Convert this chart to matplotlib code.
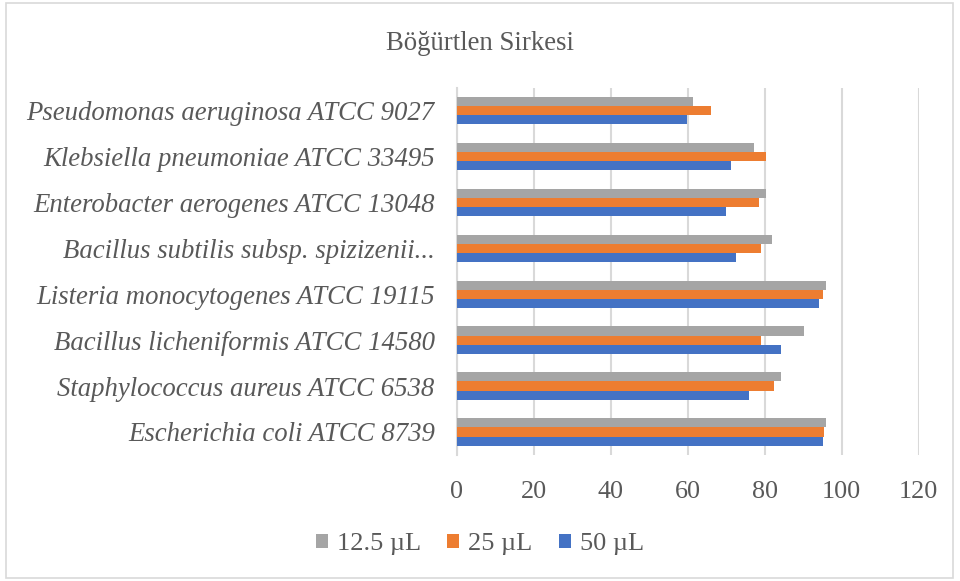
import numpy as np
import matplotlib.pyplot as plt
from matplotlib.patches import Rectangle

# categories listed from bottom to top
species = ['Escherichia coli ATCC 8739',
           'Staphylococcus aureus ATCC 6538',
           'Bacillus licheniformis ATCC 14580',
           'Listeria monocytogenes ATCC 19115',
           'Bacillus subtilis subsp. spizizenii...',
           'Enterobacter aerogenes ATCC 13048',
           'Klebsiella pneumoniae ATCC 33495',
           'Pseudomonas aeruginosa ATCC 9027']
v12_5 = [95.8, 84.1, 90.1, 95.8, 81.8, 80.4, 77.1, 61.4]
v25 = [95.5, 82.5, 79.1, 95.1, 79.1, 78.5, 80.4, 66.1]
v50 = [95.1, 75.8, 84.1, 94.1, 72.5, 69.8, 71.1, 59.8]

txt = '#595959'
plt.rcParams['font.family'] = ['Liberation Serif', 'DejaVu Serif']

fig = plt.figure(figsize=(9.6, 5.81), dpi=100)
ax = fig.add_axes([0.476, 0.217, 0.481, 0.632])

y = np.arange(len(species))
h = 0.2
ax.barh(y - h, v50, height=h, color='#4472C4', label='50 µL', zorder=3)
ax.barh(y, v25, height=h, color='#ED7D31', label='25 µL', zorder=3)
ax.barh(y + h, v12_5, height=h, color='#A5A5A5', label='12.5 µL', zorder=3)

ax.set_xlim(0, 120)
ax.set_ylim(-0.5, len(species) - 0.5)
ax.set_xticks(np.arange(0, 121, 20))
ax.set_yticks(y)
ax.set_yticklabels(species, fontstyle='italic', fontsize=19.3, color=txt)
ax.tick_params(axis='x', length=0, pad=19, labelsize=18.8, labelcolor=txt)
ax.tick_params(axis='y', length=0, pad=16)
ax.grid(axis='x', color='#d9d9d9', linewidth=1.5, zorder=0)
for s in ['top', 'right', 'bottom']:
    ax.spines[s].set_visible(False)
ax.spines['left'].set_color('#d9d9d9')
ax.spines['left'].set_linewidth(1.5)

fig.text(0.5, 0.925, 'Böğürtlen Sirkesi', ha='center', va='center', fontsize=19.3, color=txt)

handles, labels = ax.get_legend_handles_labels()
fig.legend(handles[::-1], labels[::-1], loc='center', bbox_to_anchor=(0.5, 0.063),
           ncol=3, frameon=False, fontsize=19, labelcolor=txt,
           handlelength=0.45, handleheight=0.45, handletextpad=0.35, columnspacing=1.0)

fig.patches.append(Rectangle((0.006, 0.005), 0.987, 0.99, transform=fig.transFigure,
                             fill=False, edgecolor='#d9d9d9', linewidth=1.2))

plt.savefig('out.png', dpi=100)
